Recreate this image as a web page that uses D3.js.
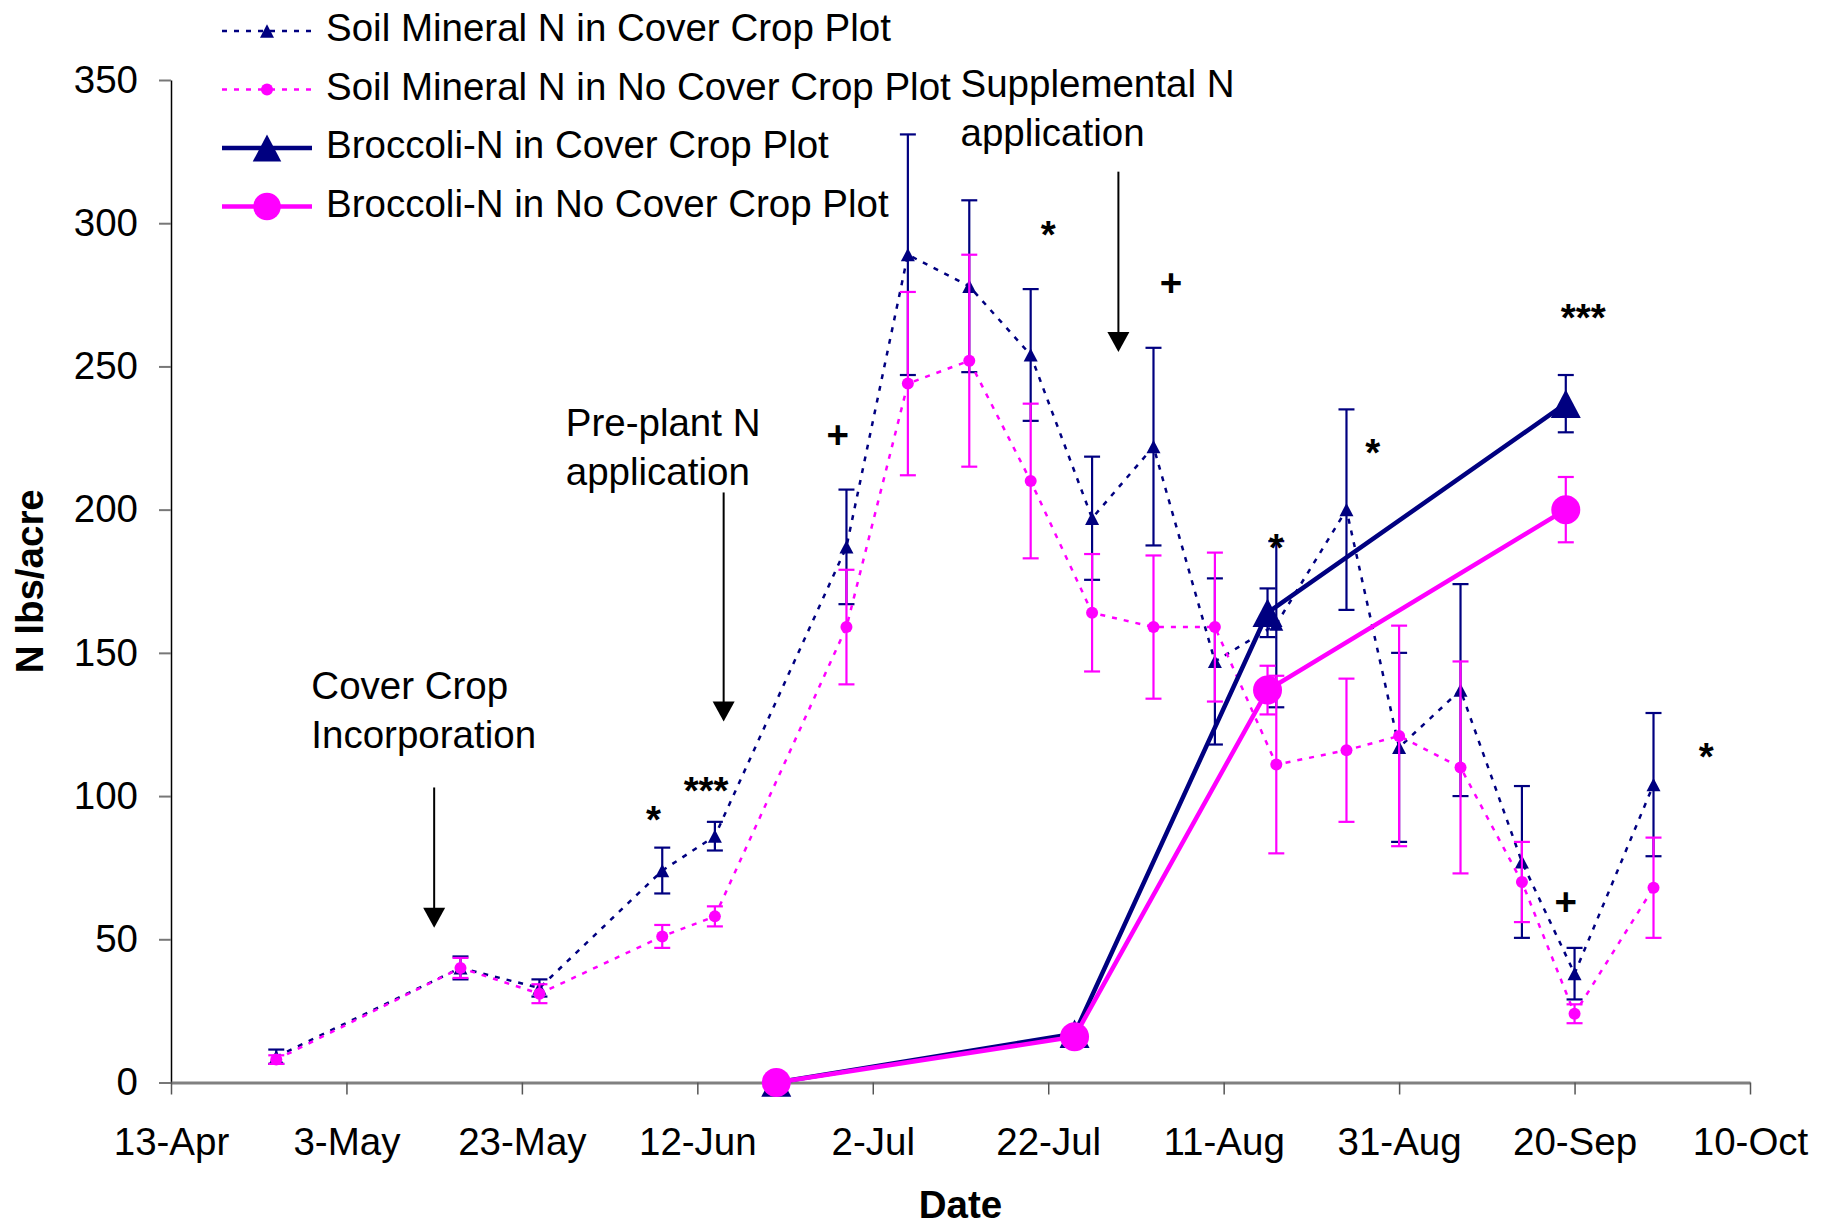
<!DOCTYPE html>
<html lang="en">
<head>
    <meta charset="UTF-8">
    <title>N lbs/acre</title>
    <script src="https://cdn.jsdelivr.net/npm/d3@7"></script>
    <style>
        html, body {
            margin: 0;
            padding: 0;
            background: #fff;
        }
        svg {
            display: block;
            font-family: "Liberation Sans", Arial, sans-serif;
        }
    </style>
</head>
<body>
<script>
    const year = 2005;

    // axis ticks
    const xTickLabels = ['13-Apr', '3-May', '23-May', '12-Jun', '2-Jul', '22-Jul', '11-Aug', '31-Aug', '20-Sep', '10-Oct'];
    const yTicks = [0, 50, 100, 150, 200, 250, 300, 350];

    // soil mineral N sampling
    const soilDates = ['Apr 25', 'May 16', 'May 25', 'Jun 8', 'Jun 14', 'Jun 29', 'Jul 6', 'Jul 13', 'Jul 20', 'Jul 27',
        'Aug 3', 'Aug 10', 'Aug 17', 'Aug 25', 'Aug 31', 'Sep 7', 'Sep 14', 'Sep 20', 'Sep 29'];
    const soilCover = [9, 40, 33, 74, 86, 187, 289, 278, 254, 197, 222, 147, 160, 200, 117, 137, 77, 38, 104];
    const soilCoverSE = [2.5, 4, 3, 8, 5, 20, 42, 30, 23, 21.5, 34.5, 29, 29, 35, 33, 37, 26.5, 9, 25];
    const soilNoCover = [8, 40, 31, 51, 58, 159, 244, 252, 210, 164, 159, 159, 111, 116, 121, 110, 70, 24, 68];
    const soilNoCoverSE = [1.5, 3.5, 3.3, 4, 3.5, 20, 32, 37, 27, 20.5, 25, 26, 31, 25, 38.5, 37, 14, 3.3, 17.5];

    // broccoli N uptake
    const brocDates = ['Jun 21', 'Jul 25', 'Aug 16', 'Sep 19'];
    const brocCover = [0, 17, 164, 237];
    const brocCoverSE = [0, 0, 8.5, 10];
    const brocNoCover = [0, 16, 137, 200];
    const brocNoCoverSE = [0, 0, 8.5, 11.4];

    const seriesNames = [
        'Soil Mineral N in Cover Crop Plot',
        'Soil Mineral N in No Cover Crop Plot',
        'Broccoli-N in Cover Crop Plot',
        'Broccoli-N in No Cover Crop Plot'
    ];

    // significance marks (centre of glyph)
    const sigDates = ['Jun 7', 'Jun 13', 'Jun 28', 'Jul 22', 'Aug 5', 'Aug 17', 'Aug 28', 'Sep 21', 'Sep 19', 'Oct 5'];
    const sigValues = [95, 105, 226, 299, 279, 190, 223, 270, 63, 117];
    const sigLabels = ['*', '***', '+', '*', '+', '*', '*', '***', '+', '*'];

    // callouts with arrows
    const calloutLines = [['Cover Crop', 'Incorporation'], ['Pre-plant N', 'application'], ['Supplemental N', 'application']];
    const calloutDates = ['Apr 29', 'May 28', 'Jul 12'];
    const calloutValues = [134, 225.6, 344];
    const arrowDates = ['May 13', 'Jun 15', 'Jul 30'];
    const arrowFrom = [103, 206, 318];
    const arrowTo = [54, 126, 255];

    const navy = '#000080';
    const magenta = '#ff00ff';
    const fontSize = 38.5;

    let width = 1835;
    let height = 1227;
    let margin = {left: 171, right: 85, top: 80, bottom: 144.5};

    let parseDay = d3.timeParse('%b %d %Y');
    let parseTick = d3.timeParse('%d-%b-%Y');
    let day = s => parseDay(s + ' ' + year);
    let tickDates = xTickLabels.map(s => parseTick(s + '-' + year));

    let svg = d3.select('body').append('svg')
        .attr('width', width)
        .attr('height', height);

    let x = d3.scaleTime()
        .domain([tickDates[0], tickDates[tickDates.length - 1]])
        .range([margin.left, width - margin.right]);

    let y = d3.scaleLinear()
        .domain([0, 350])
        .range([height - margin.bottom, margin.top]);

    // axes
    let yAxis = svg.append('g')
        .attr('transform', `translate(${margin.left},0)`)
        .call(d3.axisLeft(y).tickValues(yTicks).tickSize(12).tickPadding(21).tickSizeOuter(0))
        .attr('font-size', fontSize)
        .attr('font-family', null);
    yAxis.select('.domain').attr('stroke', '#000').attr('stroke-width', 1.5);
    yAxis.selectAll('.tick line').attr('stroke', '#777').attr('stroke-width', 2);
    yAxis.selectAll('.tick text').attr('fill', '#000');

    let xAxis = svg.append('g')
        .attr('transform', `translate(0,${y(0)})`)
        .call(d3.axisBottom(x).tickValues(tickDates).tickFormat(d3.timeFormat('%-d-%b'))
            .tickSize(12).tickPadding(33).tickSizeOuter(0))
        .attr('font-size', fontSize)
        .attr('font-family', null);
    xAxis.select('.domain').attr('stroke', '#808080').attr('stroke-width', 3);
    xAxis.selectAll('.tick line').attr('stroke', '#555').attr('stroke-width', 1.5);
    xAxis.selectAll('.tick text').attr('fill', '#000');

    svg.append('text')
        .attr('x', (margin.left + width - margin.right) / 2)
        .attr('y', 1218)
        .attr('text-anchor', 'middle')
        .attr('font-size', fontSize)
        .attr('font-weight', 'bold')
        .text('Date');

    svg.append('text')
        .attr('transform', `translate(43,${(y(0) + y(350)) / 2}) rotate(-90)`)
        .attr('text-anchor', 'middle')
        .attr('font-size', fontSize)
        .attr('font-weight', 'bold')
        .text('N lbs/acre');

    // marker shapes
    function triangle(w, h) {
        return `M0,${-h / 2}L${w / 2},${h / 2}L${-w / 2},${h / 2}Z`;
    }

    function drawMarker(g, shape, size, color) {
        if (shape === 'triangle') {
            g.append('path').attr('d', triangle(size, size * 0.95)).attr('fill', color);
        } else {
            g.append('circle').attr('r', size / 2).attr('fill', color);
        }
    }

    let series = [
        {dates: soilDates, values: soilCover, se: soilCoverSE, color: navy, dashed: true, shape: 'triangle', size: 14},
        {dates: soilDates, values: soilNoCover, se: soilNoCoverSE, color: magenta, dashed: true, shape: 'circle', size: 12},
        {dates: brocDates, values: brocCover, se: brocCoverSE, color: navy, dashed: false, shape: 'triangle', size: 30},
        {dates: brocDates, values: brocNoCover, se: brocNoCoverSE, color: magenta, dashed: false, shape: 'circle', size: 29}
    ];

    let line = d3.line()
        .x(d => x(d.date))
        .y(d => y(d.value));

    series.forEach(s => {
        let points = s.dates.map((d, i) => ({date: day(d), value: s.values[i], se: s.se[i]}));
        let g = svg.append('g');

        // error bars
        let bars = g.selectAll('.err')
            .data(points.filter(p => p.se > 0)).enter()
            .append('g')
            .attr('stroke', s.color)
            .attr('stroke-width', 2.2);
        bars.append('line')
            .attr('x1', d => x(d.date)).attr('x2', d => x(d.date))
            .attr('y1', d => y(d.value - d.se)).attr('y2', d => y(d.value + d.se));
        bars.append('line')
            .attr('x1', d => x(d.date) - 8).attr('x2', d => x(d.date) + 8)
            .attr('y1', d => y(d.value + d.se)).attr('y2', d => y(d.value + d.se));
        bars.append('line')
            .attr('x1', d => x(d.date) - 8).attr('x2', d => x(d.date) + 8)
            .attr('y1', d => y(d.value - d.se)).attr('y2', d => y(d.value - d.se));

        g.append('path')
            .datum(points)
            .attr('d', line)
            .attr('fill', 'none')
            .attr('stroke', s.color)
            .attr('stroke-width', s.dashed ? 2.5 : 4.5)
            .attr('stroke-dasharray', s.dashed ? '5,7' : null);

        g.selectAll('.marker')
            .data(points).enter()
            .append('g')
            .attr('transform', d => `translate(${x(d.date)},${y(d.value)})`)
            .each(function () {
                drawMarker(d3.select(this), s.shape, s.size, s.color);
            });
    });

    // significance marks
    svg.append('g')
        .selectAll('text')
        .data(sigLabels).enter()
        .append('text')
        .attr('x', (d, i) => x(day(sigDates[i])))
        .attr('y', (d, i) => y(sigValues[i]))
        .attr('dy', d => d === '+' ? '0.34em' : '0.58em')
        .attr('text-anchor', 'middle')
        .attr('font-size', fontSize)
        .attr('font-weight', 'bold')
        .text(d => d);

    // callouts
    calloutLines.forEach((lines, i) => {
        let t = svg.append('text')
            .attr('x', x(day(calloutDates[i])))
            .attr('y', y(calloutValues[i]))
            .attr('font-size', fontSize);
        lines.forEach((l, j) => {
            t.append('tspan')
                .attr('x', x(day(calloutDates[i])))
                .attr('dy', j === 0 ? 0 : 49)
                .text(l);
        });

        let ax = x(day(arrowDates[i]));
        let tip = y(arrowTo[i]);
        svg.append('line')
            .attr('x1', ax).attr('x2', ax)
            .attr('y1', y(arrowFrom[i])).attr('y2', tip - 18)
            .attr('stroke', '#000')
            .attr('stroke-width', 2);
        svg.append('path')
            .attr('d', `M${ax - 11},${tip - 20}L${ax + 11},${tip - 20}L${ax},${tip}Z`)
            .attr('fill', '#000');
    });

    // legend
    let legend = svg.append('g');
    series.forEach((s, i) => {
        let ly = 31 + 58.5 * i;
        let item = legend.append('g').attr('transform', `translate(0,${ly})`);
        item.append('line')
            .attr('x1', 222).attr('x2', 312)
            .attr('stroke', s.color)
            .attr('stroke-width', s.dashed ? 2.5 : 4.5)
            .attr('stroke-dasharray', s.dashed ? '5,7' : null);
        let m = item.append('g').attr('transform', 'translate(267,0)');
        drawMarker(m, s.shape, s.dashed ? s.size : s.size * 0.95, s.color);
        item.append('text')
            .attr('x', 326)
            .attr('y', 10)
            .attr('font-size', fontSize)
            .text(seriesNames[i]);
    });
</script>
</body>
</html>
